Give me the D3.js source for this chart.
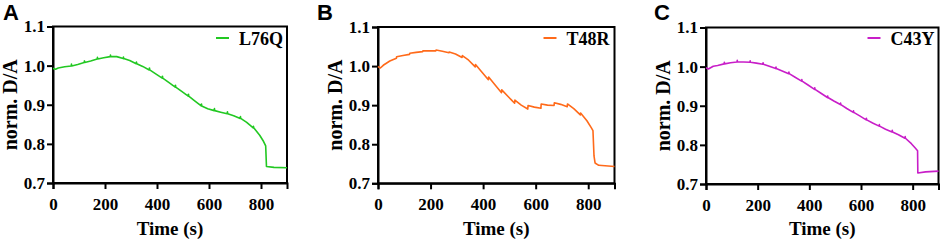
<!DOCTYPE html>
<html>
<head>
<meta charset="utf-8">
<script src="https://cdn.jsdelivr.net/npm/d3@7"></script>
<style>
  body { margin: 0; background: #fff; }
  svg { display: block; }
</style>
</head>
<body>
<div id="wrapper"></div>
<script>
// time (s), normalised D/A ratio
const l76q = [
  [0,0.993],[10,0.991],[20,0.994],[45,0.997],
  [70,0.999],[71,1.004],[72,0.999],[95,1.003],
  [120,1.008],[121,1.012],[122,1.008],[145,1.012],
  [170,1.017],[171,1.021],[172,1.017],[195,1.020],
  [220,1.023],[221,1.027],[222,1.023],[245,1.023],
  [270,1.018],[271,1.022],[272,1.018],[295,1.013],
  [320,1.005],[321,1.009],[322,1.005],[345,0.998],
  [370,0.989],[371,0.994],[372,0.989],[395,0.979],
  [420,0.968],[421,0.973],[422,0.968],[445,0.957],
  [470,0.945],[471,0.950],[472,0.945],[495,0.934],
  [520,0.922],[521,0.927],[522,0.922],[545,0.910],
  [570,0.897],[571,0.902],[572,0.897],[595,0.890],
  [620,0.885],[621,0.890],[622,0.885],[645,0.881],
  [670,0.877],[671,0.882],[672,0.877],[695,0.872],
  [720,0.865],[721,0.870],[722,0.865],[745,0.855],
  [770,0.841],[771,0.845],[772,0.841],[795,0.822],
  [810,0.806],[818,0.795],[821,0.742],[850,0.740],[900,0.739]
]

const t48r = [
  [0,0.999],[9,0.995],[20,1.002],[45,1.013],
  [70,1.020],[71,1.024],[95,1.027],
  [120,1.030],[121,1.033],[145,1.035],
  [170,1.037],[171,1.039],[195,1.039],
  [220,1.039],[221,1.041],[245,1.038],
  [270,1.034],[271,1.036],[295,1.031],
  [320,1.022],[321,1.027],[345,1.015],
  [370,0.998],[371,1.004],[395,0.985],
  [420,0.965],[421,0.972],[445,0.952],
  [470,0.932],[471,0.939],[495,0.922],
  [520,0.905],[521,0.913],[545,0.900],
  [570,0.890],[571,0.899],[595,0.895],
  [620,0.892],[621,0.903],[645,0.900],
  [670,0.899],[671,0.906],[695,0.902],
  [720,0.896],[721,0.903],[745,0.891],
  [770,0.875],[771,0.880],[795,0.860],
  [812,0.842],[818,0.835],[822,0.770],[826,0.752],[840,0.746],[900,0.743]
]

const c43y = [
  [0,0.997],[9,0.994],[28,1.001],[45,1.003],
  [70,1.007],[71,1.011],[72,1.007],[95,1.010],
  [120,1.012],[121,1.016],[122,1.012],[145,1.012],
  [170,1.011],[171,1.015],[172,1.011],[195,1.009],
  [220,1.006],[221,1.010],[222,1.006],[245,1.001],
  [270,0.995],[271,0.999],[272,0.995],[295,0.989],
  [320,0.982],[321,0.986],[322,0.982],[345,0.973],
  [370,0.963],[371,0.967],[372,0.963],[395,0.953],
  [420,0.942],[421,0.946],[422,0.942],[445,0.932],
  [470,0.921],[471,0.925],[472,0.921],[495,0.912],
  [520,0.903],[521,0.907],[522,0.903],[545,0.893],
  [570,0.883],[571,0.887],[572,0.883],[595,0.874],
  [620,0.864],[621,0.868],[622,0.864],[645,0.856],
  [670,0.848],[671,0.852],[672,0.848],[695,0.840],
  [720,0.833],[721,0.837],[722,0.833],[745,0.826],
  [770,0.817],[771,0.821],[772,0.817],[795,0.803],
  [810,0.792],[819,0.785],[820,0.728],[850,0.731],[900,0.733]
]

const seriesNames = ["L76Q", "T48R", "C43Y"]
const panelLetters = ["A", "B", "C"]
const seriesColors = ["#22c822", "#ff6a1a", "#c81ec8"]
const xTicks = [0, 200, 400, 600, 800]
const yTicks = [0.7, 0.8, 0.9, 1.0, 1.1]

const width = 941
const height = 242
const serif = "'Liberation Serif', 'Times New Roman', serif"
const sans = "'Liberation Sans', Arial, sans-serif"

// plot boxes for the three panels
const panels = [
  {left: 53, right: 287, top: 26.5, bottom: 183, letterX: 3},
  {left: 378, right: 614.5, top: 27, bottom: 183.3, letterX: 317},
  {left: 706, right: 938.5, top: 27.5, bottom: 184, letterX: 654}
]
const allData = [l76q, t48r, c43y]

const svg = d3.select("#wrapper")
  .append("svg")
  .attr("width", width)
  .attr("height", height)

panels.forEach((p, i) => {
  const g = svg.append("g")

  const x = d3.scaleLinear().domain([0, 900]).range([p.left, p.right])
  const y = d3.scaleLinear().domain([0.7, 1.1]).range([p.bottom, p.top])

  // box
  g.append("rect")
    .attr("x", p.left).attr("y", p.top)
    .attr("width", p.right - p.left).attr("height", p.bottom - p.top)
    .attr("fill", "none").attr("stroke", "#000").attr("stroke-width", 2)

  const xAxis = g.append("g")
    .attr("transform", `translate(0,${p.bottom})`)
    .call(d3.axisBottom(x).tickValues(xTicks).tickSize(6).tickPadding(9).tickFormat(d3.format("d")))
  const yAxis = g.append("g")
    .attr("transform", `translate(${p.left},0)`)
    .call(d3.axisLeft(y).tickValues(yTicks).tickSize(6).tickPadding(2).tickFormat(d3.format(".1f")))

  ;[xAxis, yAxis].forEach(a => {
    a.attr("font-family", null)
    a.select(".domain").attr("stroke-width", 2)
    a.selectAll(".tick line").attr("stroke-width", 2)
    a.selectAll("text")
      .attr("fill", "#000")
      .style("font-family", serif)
      .style("font-weight", "bold")
      .style("font-size", "17px")
  })

  const line = d3.line()
    .x(d => x(d[0]))
    .y(d => y(d[1]))

  g.append("path")
    .datum(allData[i])
    .attr("d", line)
    .attr("fill", "none")
    .attr("stroke", seriesColors[i])
    .attr("stroke-width", 1.6)
    .attr("stroke-linejoin", "round")

  // legend
  const lx = p.right - 48
  g.append("line")
    .attr("x1", lx - 23).attr("x2", lx - 10)
    .attr("y1", 38).attr("y2", 38)
    .attr("stroke", seriesColors[i]).attr("stroke-width", 2)
  g.append("text")
    .attr("x", lx).attr("y", 44.5)
    .style("font-family", serif).style("font-weight", "bold").style("font-size", "18px")
    .text(seriesNames[i])

  // axis titles
  g.append("text")
    .attr("transform", `translate(${p.left - 36},${(p.top + p.bottom) / 2}) rotate(-90)`)
    .attr("text-anchor", "middle")
    .style("font-family", serif).style("font-weight", "bold").style("font-size", "20px")
    .text("norm. D/A")
  g.append("text")
    .attr("x", (p.left + p.right) / 2).attr("y", 235)
    .attr("text-anchor", "middle")
    .style("font-family", serif).style("font-weight", "bold").style("font-size", "19px")
    .text("Time (s)")

  // panel letter
  g.append("text")
    .attr("x", p.letterX).attr("y", 20)
    .style("font-family", sans).style("font-weight", "bold").style("font-size", "22px")
    .text(panelLetters[i])
})
</script>
</body>
</html>
